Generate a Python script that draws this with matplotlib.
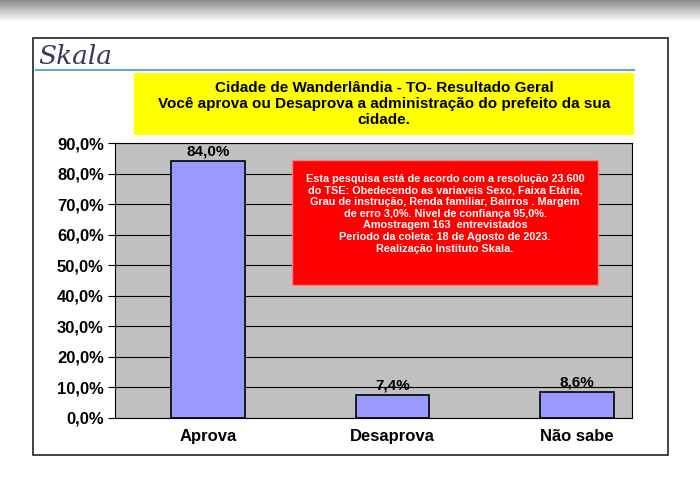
import matplotlib
matplotlib.use("Agg")
import matplotlib.pyplot as plt
from matplotlib.patches import Rectangle
from matplotlib.ticker import FuncFormatter, MultipleLocator

categories = ["Aprova", "Desaprova", "Não sabe"]
values = [84.0, 7.4, 8.6]
title_lines = ["Cidade de Wanderlândia - TO- Resultado Geral",
               "Você aprova ou Desaprova a administração do prefeito da sua",
               "cidade."]
note = ("Esta pesquisa está de acordo com a resolução 23.600\n"
        "do TSE: Obedecendo as variaveis Sexo, Faixa Etária,\n"
        "Grau de instrução, Renda familiar, Bairros . Margem\n"
        "de erro 3,0%. Nivel de confiança 95,0%.\n"
        "Amostragem 163  entrevistados\n"
        "Periodo da coleta: 18 de Agosto de 2023.\n"
        "Realização Instituto Skala.")

W, H = 700, 499
fig = plt.figure(figsize=(7, 4.99), dpi=100)
fig.patch.set_facecolor("white")

def fx(x): return x / W
def fy(y): return 1 - y / H

# top gray bar
for i in range(22):
    g = 0.55 + 0.45 * i / 21
    fig.add_artist(Rectangle((0, fy(i + 1)), 1, 1 / H, transform=fig.transFigure,
                             color=(g, g, g), lw=0))
# outer frame
fig.add_artist(Rectangle((fx(33), fy(455)), fx(635), (455 - 38) / H, transform=fig.transFigure,
                         fill=False, ec="#222222", lw=1.2))
# logo
fig.text(fx(38), fy(57), "Skala", fontsize=19, family="DejaVu Serif", style="italic",
         color="#3a3560", va="center")
fig.add_artist(Rectangle((fx(35), fy(71)), fx(600), 2 / H, transform=fig.transFigure,
                         color="#5fa8c8", lw=0))
# yellow title box
fig.add_artist(Rectangle((fx(134), fy(135)), fx(500), 62 / H, transform=fig.transFigure,
                         color="#ffff00", lw=0))
fig.text(fx(384), fy(104), "\n".join(title_lines), ha="center", va="center",
         fontsize=11, fontweight="bold", family="Liberation Sans", linespacing=1.15)

ax = fig.add_axes([fx(115), fy(418), fx(517), (418 - 143) / H])
ax.set_facecolor("#c0c0c0")
x = list(range(len(categories)))
ax.bar(x, values, width=0.4, color="#9999ff", edgecolor="black", lw=1.2, zorder=3)
for xi, v in zip(x, values):
    ax.text(xi, v + 0.8, f"{v:.1f}".replace(".", ",") + "%", ha="center", va="bottom",
            fontsize=11, fontweight="bold", family="Liberation Sans", zorder=4)
ax.set_xlim(-0.503, 2.297)
ax.set_ylim(0, 90)
ax.yaxis.set_major_locator(MultipleLocator(10))
ax.yaxis.set_major_formatter(FuncFormatter(lambda v, p: f"{v:.1f}".replace(".", ",") + "%"))
ax.grid(axis="y", color="black", lw=0.8, zorder=1)
ax.set_xticks(x)
ax.set_xticklabels(categories)
for lab in ax.get_xticklabels() + ax.get_yticklabels():
    lab.set_fontsize(12); lab.set_fontweight("bold"); lab.set_family("Liberation Sans")
ax.tick_params(axis="x", length=0, pad=8)
ax.tick_params(axis="y", length=5, pad=3)
for s in ax.spines.values():
    s.set_color("black")

fig.add_artist(Rectangle((fx(292), fy(285)), fx(306), 125 / H, transform=fig.transFigure,
                         color="#ff0000", ec="#ff8080", lw=1))
fig.text(fx(445), fy(174), note, ha="center", va="top", color="white", fontsize=7.8,
         fontweight="bold", family="Liberation Sans", linespacing=1.2)

fig.savefig("out.png", dpi=100)
